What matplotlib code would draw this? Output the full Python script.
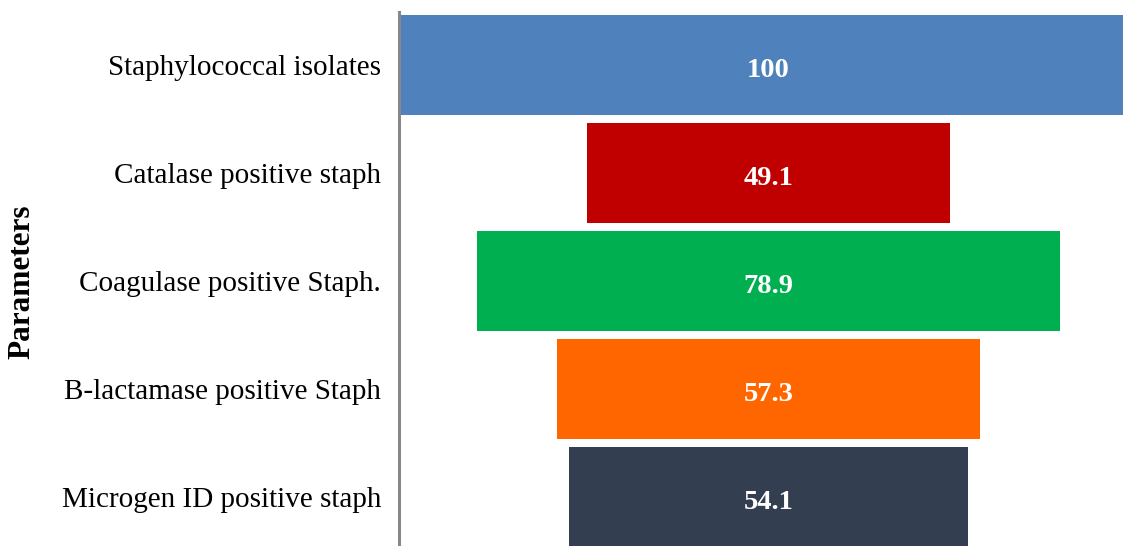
import matplotlib.pyplot as plt

categories = ['Staphylococcal isolates', 'Catalase positive staph',
              'Coagulase positive Staph.', 'B-lactamase positive Staph',
              'Microgen ID positive staph']
values = [100, 49.1, 78.9, 57.3, 54.1]
colors = ['#4F81BD', '#C00000', '#00B050', '#FF6600', '#333F50']

plt.rcParams['font.family'] = ['Liberation Serif', 'DejaVu Serif']

fig = plt.figure(figsize=(11.23, 5.46), dpi=100)
ax = fig.add_axes([399 / 1123, 0, 724 / 1123, 534 / 546])

# funnel: each bar centred on zero
ypos = list(range(len(categories)))
lefts = [-v / 2 for v in values]
ax.barh(ypos, values, left=lefts, height=0.926, color=colors, edgecolor='none')

for y, v in zip(ypos, values):
    ax.text(0, y + 0.02, f'{v:g}', ha='center', va='center_baseline', color='white',
            fontsize=20.5, fontweight='bold')

ax.set_xlim(-50, 48)
ax.set_ylim(4.454, -0.49)
ax.set_yticks(ypos)
ax.set_yticklabels(categories, fontsize=21, va='center_baseline')
ax.tick_params(axis='y', length=0, pad=13)
ax.set_xticks([])
for s in ['top', 'right', 'bottom']:
    ax.spines[s].set_visible(False)
ax.spines['left'].set_color('#888888')
ax.spines['left'].set_linewidth(2.2)

fig.text(22 / 1123, 0.4844, 'Parameters', rotation=90, ha='center', va='center',
         fontsize=22.5, fontweight='bold')

fig.savefig('out.png', dpi=100)
